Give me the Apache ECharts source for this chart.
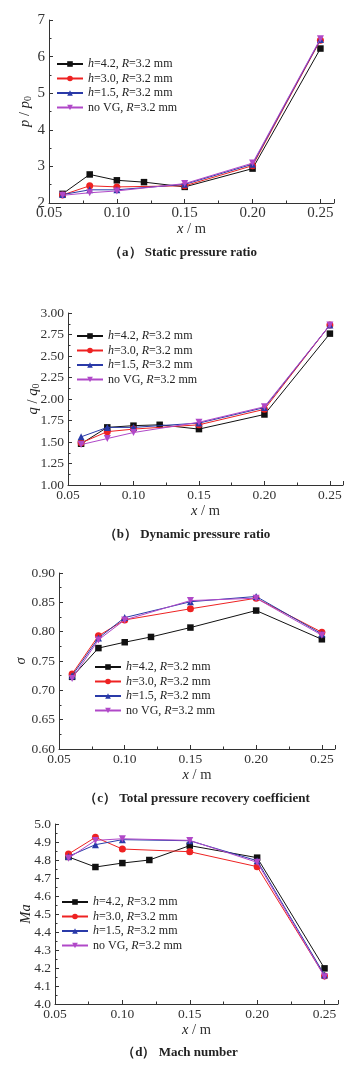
<!DOCTYPE html>
<html>
<head>
<meta charset="utf-8">
<script src="https://cdn.jsdelivr.net/npm/echarts@6/dist/echarts.min.js"></script>
<style>
html,body{margin:0;padding:0;background:#fff;}
#c{width:361px;height:1075px;}
</style>
</head>
<body>
<div id="c"></div>
<script>
// ---- data ----
var seriesNames = ['h=4.2, R=3.2 mm', 'h=3.0, R=3.2 mm', 'h=1.5, R=3.2 mm', 'no VG, R=3.2 mm'];
var xBlack = [0.06, 0.08, 0.10, 0.12, 0.15, 0.20, 0.25];
var xOther = [0.06, 0.08, 0.10, 0.15, 0.20, 0.25];

// (a) static pressure ratio p/p0
var pH42 = [2.25, 2.78, 2.62, 2.57, 2.44, 2.94, 6.22];
var pH30 = [2.22, 2.47, 2.44, 2.47, 3.02, 6.45];
var pH15 = [2.23, 2.36, 2.36, 2.51, 3.06, 6.47];
var pNoVG = [2.21, 2.28, 2.33, 2.53, 3.09, 6.49];

// (b) dynamic pressure ratio q/q0
var qH42 = [1.48, 1.67, 1.69, 1.70, 1.65, 1.82, 2.76];
var qH30 = [1.49, 1.62, 1.65, 1.70, 1.88, 2.86];
var qH15 = [1.56, 1.67, 1.67, 1.72, 1.90, 2.86];
var qNoVG = [1.47, 1.54, 1.61, 1.73, 1.91, 2.86];

// (c) total pressure recovery coefficient sigma
var sH42 = [0.723, 0.772, 0.782, 0.791, 0.807, 0.836, 0.787];
var sH30 = [0.728, 0.793, 0.820, 0.839, 0.857, 0.799];
var sH15 = [0.725, 0.789, 0.824, 0.851, 0.860, 0.796];
var sNoVG = [0.720, 0.786, 0.820, 0.853, 0.857, 0.794];

// (d) Mach number
var mH42 = [4.817, 4.761, 4.783, 4.800, 4.880, 4.813, 4.198];
var mH30 = [4.833, 4.926, 4.861, 4.846, 4.763, 4.156];
var mH15 = [4.820, 4.885, 4.913, 4.907, 4.796, 4.161];
var mNoVG = [4.810, 4.909, 4.918, 4.909, 4.787, 4.152];

var captions = ['（a） Static pressure ratio', '（b） Dynamic pressure ratio', '（c） Total pressure recovery coefficient', '（d） Mach number'];

// ---- styling ----
var FONT = '"Liberation Serif", "Times New Roman", serif';
var colors = ['#111111', '#ee2222', '#2a3aa8', '#b048c8'];
var symbols = ['rect', 'circle', 'triangle', 'triangle'];
var rotates = [0, 0, 0, 180];

var panels = [
  {grid: {left: 49, top: 20, width: 285, height: 183}, y: {min: 2, max: 7, interval: 1, dec: 0, minor: 2}, fs: 15, yname: '{i|p} / {i|p}{s|0}', ygap: 16,
   legend: {left: 56, top: 57}, data: [pH42, pH30, pH15, pNoVG]},
  {grid: {left: 68, top: 313, width: 275, height: 172}, y: {min: 1, max: 3, interval: 0.25, dec: 2, minor: 2}, fs: 13.5, yname: '{i|q} / {i|q}{s|0}', ygap: 27,
   legend: {left: 76, top: 329}, data: [qH42, qH30, qH15, qNoVG]},
  {grid: {left: 59, top: 573, width: 276, height: 176}, y: {min: 0.6, max: 0.9, interval: 0.05, dec: 2, minor: 2}, fs: 13.5, yname: '{i|σ}', ygap: 30,
   legend: {left: 94, top: 660}, data: [sH42, sH30, sH15, sNoVG]},
  {grid: {left: 55, top: 824, width: 283, height: 180}, y: {min: 4.0, max: 5.0, interval: 0.1, dec: 1, minor: 2}, fs: 13.5, yname: '{i|Ma}', ygap: 21,
   legend: {left: 61, top: 895}, data: [mH42, mH30, mH15, mNoVG]}
];

var rich = {
  i: {fontFamily: FONT, fontStyle: 'italic', fontSize: 14.5, color: '#222'},
  s: {fontFamily: FONT, fontSize: 10, color: '#222', verticalAlign: 'bottom', padding: [6, 0, 0, 0]}
};
var legendRich = {
  i: {fontFamily: FONT, fontStyle: 'italic', fontSize: 12, color: '#222', lineHeight: 14}
};

var grids = [], xAxes = [], yAxes = [], series = [], legends = [], graphics = [];
var axisLineStyle = {color: '#333', width: 1};

panels.forEach(function (p, k) {
  grids.push(p.grid);
  xAxes.push({
    type: 'value', gridIndex: k, min: 0.05, max: 0.26, interval: 0.05,
    axisLine: {show: true, onZero: false, lineStyle: axisLineStyle},
    axisTick: {show: true, inside: true, length: 4, lineStyle: axisLineStyle},
    minorTick: {show: true, splitNumber: 2, length: 2.5, lineStyle: axisLineStyle},
    splitLine: {show: false},
    axisLabel: {fontFamily: FONT, fontSize: p.fs, color: '#333', margin: 3, showMaxLabel: false,
      formatter: function (v) { return v.toFixed(2); }},
    name: '{i|x} / m', nameLocation: 'middle', nameGap: 19, nameMoveOverlap: false,
    nameTextStyle: {fontFamily: FONT, fontSize: 14.5, color: '#333', rich: rich}
  });
  yAxes.push({
    type: 'value', gridIndex: k, min: p.y.min, max: p.y.max, interval: p.y.interval,
    axisLine: {show: true, onZero: false, lineStyle: axisLineStyle},
    axisTick: {show: true, inside: true, length: 4, lineStyle: axisLineStyle},
    minorTick: {show: true, splitNumber: p.y.minor, length: 2.5, lineStyle: axisLineStyle},
    splitLine: {show: false},
    axisLabel: {fontFamily: FONT, fontSize: p.fs, color: '#333', margin: 4,
      formatter: (function (d) { return function (v) { return v.toFixed(d); }; })(p.y.dec)},
    name: p.yname, nameLocation: 'middle', nameGap: p.ygap, nameRotate: 90, nameMoveOverlap: false,
    nameTextStyle: {fontFamily: FONT, fontSize: 14.5, color: '#333', rich: rich}
  });
  p.data.forEach(function (vals, j) {
    var xs = (j === 0) ? xBlack : xOther;
    series.push({
      type: 'line', name: seriesNames[j], xAxisIndex: k, yAxisIndex: k,
      data: vals.map(function (v, i) { return [xs[i], v]; }),
      symbol: symbols[j], symbolRotate: rotates[j], symbolSize: j === 0 ? 6.5 : 7,
      showSymbol: true,
      lineStyle: {color: colors[j], width: 1},
      itemStyle: {color: colors[j]},
      z: 2 + j, animation: false
    });
  });
  legends.push({
    left: p.legend.left, top: p.legend.top, orient: 'vertical', itemGap: 0.5,
    itemWidth: 26, itemHeight: 7, selectedMode: false, padding: 0,
    data: seriesNames,
    textStyle: {fontFamily: FONT, fontSize: 12, color: '#222', lineHeight: 14, rich: legendRich},
    formatter: function (name) {
      return name.replace(/^h=/, '{i|h}=').replace(/R=/, '{i|R}=');
    }
  });
});

var captionPos = [[183, 253], [187, 535], [197, 799], [180, 1053]];
captions.forEach(function (t, k) {
  graphics.push({
    type: 'text', x: captionPos[k][0], y: captionPos[k][1],
    style: {text: t, fontFamily: FONT, fontSize: 13, fontWeight: 'bold', fill: '#222',
      textAlign: 'center', textVerticalAlign: 'middle'}
  });
});

var chart = echarts.init(document.getElementById('c'), null, {renderer: 'canvas'});
chart.setOption({
  backgroundColor: '#fff',
  animation: false,
  grid: grids, xAxis: xAxes, yAxis: yAxes, series: series,
  legend: legends, graphic: graphics
});
</script>
</body>
</html>
